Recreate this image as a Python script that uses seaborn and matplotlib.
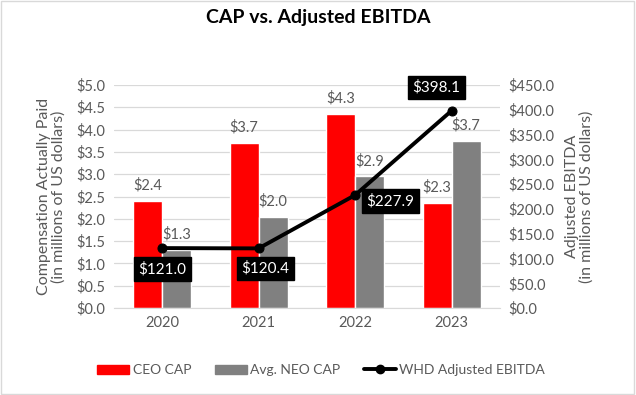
import matplotlib
matplotlib.use("Agg")
import matplotlib.pyplot as plt
import seaborn as sns
import pandas as pd
from matplotlib.patches import Patch, Rectangle
from matplotlib.lines import Line2D

years = ["2020", "2021", "2022", "2023"]
ceo_cap = [2.4, 3.7, 4.35, 2.35]
ceo_labels = ["$2.4", "$3.7", "$4.3", "$2.3"]
neo_cap = [1.3, 2.05, 2.95, 3.75]
neo_labels = ["$1.3", "$2.0", "$2.9", "$3.7"]
ebitda = [121.0, 120.4, 227.9, 398.1]
series_names = ["CEO CAP", "Avg. NEO CAP"]
line_name = "WHD Adjusted EBITDA"

sns.set_style("white")
plt.rcParams["font.family"] = ["Lato", "DejaVu Sans"]

TXT = "#595959"
RED = "#FF0000"
GRAY = "#808080"

df = pd.DataFrame({
    "year": years * 2,
    "value": ceo_cap + neo_cap,
    "series": [series_names[0]] * 4 + [series_names[1]] * 4,
})
dl = pd.DataFrame({"year": years, "ebitda": ebitda})

fig = plt.figure(figsize=(6.36, 3.95), dpi=100)
ax = fig.add_axes([0.179, 0.220, 0.607, 0.565])

sns.barplot(data=df, x="year", y="value", hue="series", palette=[RED, GRAY],
            width=0.6, ax=ax, legend=False, saturation=1)

for cont, labs in zip(ax.containers, [ceo_labels, neo_labels]):
    ax.bar_label(cont, labels=labs, padding=6, color=TXT, fontsize=10.5)

ax.set_ylim(0, 5)
ax.set_yticks([i * 0.5 for i in range(11)])
ax.set_yticklabels([f"${i*0.5:.1f}" for i in range(11)], color=TXT, fontsize=10.5)
ax.set_xticks(range(4))
ax.set_xticklabels(years, color=TXT, fontsize=10.5)
ax.set_xlim(-0.5, 3.5)
ax.set_xlabel("")
ax.set_ylabel("Compensation Actually Paid\n(in millions of US dollars)", color=TXT,
              fontsize=11.5, labelpad=8, linespacing=1.0)
ax.yaxis.grid(True, color="#D9D9D9", linewidth=0.9)
ax.set_axisbelow(True)
for s in ["top", "right", "left"]:
    ax.spines[s].set_visible(False)
ax.spines["bottom"].set_color("#D9D9D9")
ax.tick_params(axis="both", length=0, pad=6)

ax2 = ax.twinx()
sns.lineplot(data=dl, x="year", y="ebitda", ax=ax2, color="black", linewidth=2.8,
             marker="o", markersize=6.5, markeredgecolor="black", sort=False)
ax2.set_ylim(0, 450)
ax2.set_yticks(range(0, 451, 50))
ax2.set_yticklabels([f"${v:.1f}" for v in range(0, 451, 50)], color=TXT, fontsize=10.5)
ax2.set_xlim(-0.5, 3.5)
ax2.set_xlabel("")
ax2.set_ylabel("Adjusted EBITDA\n(in millions of US dollars)", color=TXT,
               fontsize=11.5, labelpad=8, linespacing=1.0)
for s in ax2.spines.values():
    s.set_visible(False)
ax2.tick_params(axis="both", length=0, pad=6)

offsets = [(0, -21), (7, -20), (35, -6), (-15, 23)]
for i, (v, off) in enumerate(zip(ebitda, offsets)):
    ax2.annotate(f"${v:.1f}", xy=(i, v), xytext=off, textcoords="offset pixels",
                 ha="center", va="center", color="white", fontsize=11,
                 bbox=dict(boxstyle="square,pad=0.3", fc="black", ec="black"))

fig.text(0.5, 0.955, "CAP vs. Adjusted EBITDA", ha="center", va="center",
         fontsize=14, fontweight="bold", color="black")

handles = [Patch(color=RED), Patch(color=GRAY),
           Line2D([0], [0], color="black", linewidth=2.8, marker="o", markersize=6)]
fig.legend(handles, series_names + [line_name], loc="center", bbox_to_anchor=(0.505, 0.063),
           ncol=3, frameon=False, fontsize=10, labelcolor=TXT, handlelength=2.3,
           handleheight=0.6, columnspacing=1.7, handletextpad=0.25)

fig.patches.append(Rectangle((0.002, 0.003), 0.995, 0.994, transform=fig.transFigure,
                             fill=False, ec="#D9D9D9", lw=1))

fig.savefig("out.png", dpi=100)
